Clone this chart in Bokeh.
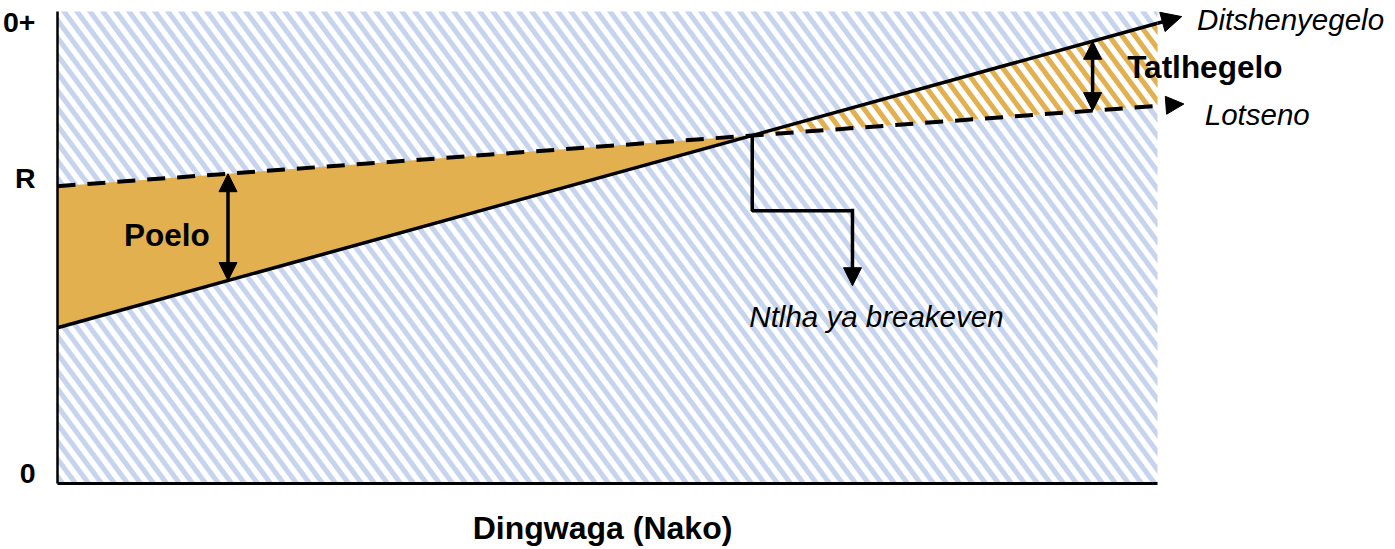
import math
from bokeh.plotting import figure
from bokeh.models import Arrow, NormalHead, Label, FixedTicker, Range1d
from bokeh.embed import file_html
from bokeh.resources import INLINE

# ---- data ----
years = [0.0, 10.0]
lotseno = [6.3, 8.0]            # dashed line
ditshenyegelo = [3.3, 9.75]     # solid line
y_tick_values = [0.23, 6.47, 9.77]
y_tick_labels = ["0", "R", "0+"]
series_names = ["Ditshenyegelo", "Lotseno"]
region_names = ["Poelo", "Tatlhegelo"]
x_axis_title = "Dingwaga (Nako)"
breakeven_text = "Ntlha ya breakeven"
y_box = [0.0, 10.0]

# ---- style ----
BLUE = "#C6D4EE"
ORANGE = "#E3B050"
FONT = "Liberation Sans"
W, H = 1395, 549
LEFT, BOTTOM = 57, 66             # pixel position of the axes' origin
PX_X, PX_Y = 110.0, 47.2          # pixels per data unit
STRIPE_PERIOD = 13.0              # px, measured horizontally
STRIPE_BAND = 6.3                 # px, stripe width measured horizontally
STRIPE_SLOPE = 1.35               # screen steepness of the "\" stripes
STRIPE_PHASE = 2.0


def slope(s):
    return (s[1] - s[0]) / (years[1] - years[0])


def at(s, x):
    return s[0] + slope(s) * (x - years[0])


# breakeven point
xb = years[0] + (lotseno[0] - ditshenyegelo[0]) / (slope(ditshenyegelo) - slope(lotseno))
yb = at(lotseno, xb)


def clip_convex(subject, region):
    """Sutherland-Hodgman clip of polygon `subject` by convex CCW polygon `region`."""
    out = list(subject)
    n = len(region)
    for i in range(n):
        if not out:
            break
        ax, ay = region[i]
        bx, by = region[(i + 1) % n]

        def side(pt):
            return (bx - ax) * (pt[1] - ay) - (by - ay) * (pt[0] - ax)

        inp, out = out, []
        for j in range(len(inp)):
            cur, prev = inp[j], inp[j - 1]
            sc, sp = side(cur), side(prev)
            if sc >= 0:
                if sp < 0:
                    t = sp / (sp - sc)
                    out.append((prev[0] + t * (cur[0] - prev[0]), prev[1] + t * (cur[1] - prev[1])))
                out.append(cur)
            elif sp >= 0:
                t = sp / (sp - sc)
                out.append((prev[0] + t * (cur[0] - prev[0]), prev[1] + t * (cur[1] - prev[1])))
    return out


def stripes(region_data):
    """Diagonal stripe polygons (data coords) filling a convex CCW region given in data coords."""
    reg = [(x * PX_X, y * PX_Y) for x, y in region_data]
    k = STRIPE_SLOPE
    us = [X + Y / k for X, Y in reg]
    ymin = min(Y for _, Y in reg) - 5
    ymax = max(Y for _, Y in reg) + 5
    c = math.floor((min(us) - STRIPE_PERIOD - STRIPE_PHASE) / STRIPE_PERIOD) * STRIPE_PERIOD + STRIPE_PHASE
    xs, ys = [], []
    while c < max(us) + STRIPE_PERIOD:
        band = [(c - ymin / k, ymin), (c + STRIPE_BAND - ymin / k, ymin),
                (c + STRIPE_BAND - ymax / k, ymax), (c - ymax / k, ymax)]
        poly = clip_convex(band, reg)
        if len(poly) >= 3:
            xs.append([X / PX_X for X, _ in poly])
            ys.append([Y / PX_Y for _, Y in poly])
        c += STRIPE_PERIOD
    return xs, ys


p = figure(width=W, height=H,
           x_range=Range1d(-LEFT / PX_X, (W - LEFT) / PX_X),
           y_range=Range1d(-BOTTOM / PX_Y, (H - BOTTOM) / PX_Y),
           output_backend="svg", toolbar_location=None,
           min_border_left=0, min_border_right=0, min_border_top=0, min_border_bottom=0)
p.grid.visible = False
p.outline_line_color = None
p.background_fill_color = "white"

# axes drawn at the origin of the data
p.xaxis.fixed_location = 0
p.xaxis.ticker = FixedTicker(ticks=[])
p.xaxis.bounds = (years[0], years[1])
p.xaxis.major_tick_line_color = None
p.xaxis.minor_tick_line_color = None
p.xaxis.axis_line_width = 3
p.xaxis.axis_line_color = "black"

p.yaxis.fixed_location = 0
p.yaxis.ticker = FixedTicker(ticks=y_tick_values)
p.yaxis.bounds = (y_box[0], y_box[1])
p.yaxis.major_label_overrides = {v: t for v, t in zip(y_tick_values, y_tick_labels)}
p.yaxis.major_tick_line_color = None
p.yaxis.minor_tick_line_color = None
p.yaxis.axis_line_width = 2.5
p.yaxis.axis_line_color = "black"
p.yaxis.major_label_text_font = FONT
p.yaxis.major_label_text_font_style = "bold"
p.yaxis.major_label_text_font_size = "28.5px"
p.yaxis.major_label_text_color = "black"
p.yaxis.major_label_standoff = 16

# hatched background of the plot box
box = [(years[0], y_box[0]), (years[1], y_box[0]), (years[1], y_box[1]), (years[0], y_box[1])]
bx, by = stripes(box)
p.patches(bx, by, fill_color=BLUE, line_color=None)

# profit area (left of breakeven)
p.varea(x=[years[0], xb], y1=[at(lotseno, years[0]), yb], y2=[at(ditshenyegelo, years[0]), yb],
        fill_color=ORANGE)
# loss area (right of breakeven): white with orange stripes
p.varea(x=[xb, years[1]], y1=[yb, at(lotseno, years[1])], y2=[yb, at(ditshenyegelo, years[1])],
        fill_color="white")
loss = [(xb, yb), (years[1], at(lotseno, years[1])), (years[1], at(ditshenyegelo, years[1]))]
ox, oy = stripes(loss)
p.patches(ox, oy, fill_color=ORANGE, line_color=None)

p.line(years, lotseno, line_dash="18 12", line_width=4, color="black")
p.line(years, ditshenyegelo, line_width=3.5, color="black")


def head(size):
    return NormalHead(size=size, fill_color="black", line_color="black", line_width=1)


# line extension arrows
x_d_end = 10.22
p.add_layout(Arrow(end=head(20), x_start=years[1], y_start=at(ditshenyegelo, years[1]),
                   x_end=x_d_end, y_end=at(ditshenyegelo, x_d_end), line_width=3.5))
x_l0, x_l1 = 10.07, 10.24
p.add_layout(Arrow(end=head(18), x_start=x_l0, y_start=at(lotseno, x_l0),
                   x_end=x_l1, y_end=at(lotseno, x_l1), line_alpha=0))

# double arrows
x_poelo = 1.55
p.add_layout(Arrow(start=head(18), end=head(18), x_start=x_poelo, y_start=at(ditshenyegelo, x_poelo),
                   x_end=x_poelo, y_end=at(lotseno, x_poelo), line_width=3.5))
x_tat = 9.41
p.add_layout(Arrow(start=head(18), end=head(18), x_start=x_tat, y_start=at(lotseno, x_tat),
                   x_end=x_tat, y_end=at(ditshenyegelo, x_tat), line_width=3.5))

# breakeven callout
callout_y, callout_x, callout_tip = 5.78, 7.227, 4.19
p.line([xb, xb, callout_x], [yb, callout_y, callout_y], line_width=3.5, color="black")
p.add_layout(Arrow(end=head(18), x_start=callout_x, y_start=callout_y + 0.04,
                   x_end=callout_x, y_end=callout_tip, line_width=3.5))

# labels
bold = dict(text_font=FONT, text_font_style="bold", text_font_size="31.5px", text_color="black",
            text_baseline="middle")
ital = dict(text_font=FONT, text_font_style="italic", text_font_size="29.5px", text_color="black",
            text_baseline="middle")
p.add_layout(Label(x=0.995, y=5.26, text=region_names[0], text_align="center", **bold))
p.add_layout(Label(x=10.43, y=8.83, text=region_names[1], text_align="center", **bold))
p.add_layout(Label(x=10.36, y=9.83, text=series_names[0], text_align="left", **ital))
p.add_layout(Label(x=10.43, y=7.81, text=series_names[1], text_align="left", **ital))
p.add_layout(Label(x=7.445, y=3.54, text=breakeven_text, text_align="center", **ital))

# x axis title
p.add_layout(Label(x=4.955, y=-0.943, text=x_axis_title, text_align="center", text_baseline="middle",
                   text_font=FONT, text_font_style="bold", text_font_size="32px", text_color="black"))

open("out.html", "w").write(file_html(p, INLINE))
